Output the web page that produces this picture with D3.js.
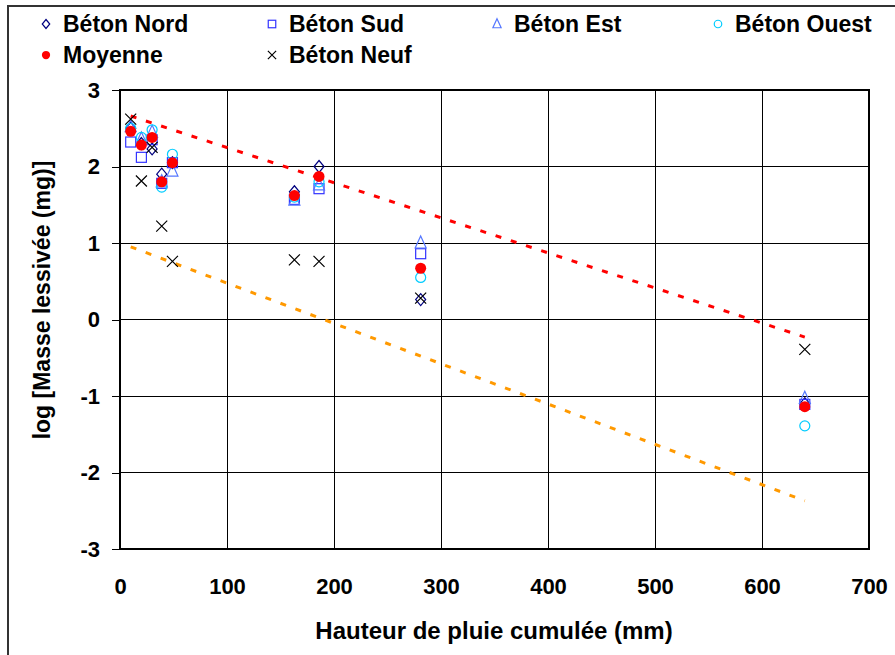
<!DOCTYPE html>
<html><head><meta charset="utf-8">
<script src="https://cdn.jsdelivr.net/npm/d3@7"></script>
<style>body{margin:0;background:#fff;} svg{display:block;font-family:"Liberation Sans",Arial,sans-serif;font-weight:bold;}</style>
</head><body>
<svg id="chart" width="895" height="655"></svg>
<script>
const rain = [10, 20, 30, 39, 49, 163, 186, 281, 640];
const betonNord  = [2.50, 2.30, 2.23, 1.90, 2.05, 1.67, 2.00, 0.26, -1.10];
const betonSud   = [2.32, 2.12, 2.35, 1.78, 2.05, 1.57, 1.71, 0.86, -1.11];
const betonEst   = [2.52, 2.36, 2.45, 1.80, 1.94, 1.56, 1.76, 1.00, -1.03];
const betonOuest = [2.50, 2.38, 2.48, 1.73, 2.16, 1.60, 1.80, 0.55, -1.39];
const moyenne    = [2.46, 2.28, 2.38, 1.80, 2.05, 1.62, 1.87, 0.67, -1.14];
const betonNeuf  = [2.62, 1.81, 2.25, 1.22, 0.76, 0.78, 0.76, 0.28, -0.39];
const trendX = [10, 640];
const trendRed = [2.66, -0.23];
const trendOrange = [0.95, -2.37];
const xTicks = [0, 100, 200, 300, 400, 500, 600, 700];
const yTicks = [-3, -2, -1, 0, 1, 2, 3];

const svg = d3.select("#chart");
const L = 120, R = 869, T = 90, B = 549;
const x = d3.scaleLinear().domain([0, 700]).range([L, R]);
const y = d3.scaleLinear().domain([-3, 3]).range([B, T]);

// outer frame
svg.append("rect").attr("x", 8).attr("y", 6).attr("width", 900).attr("height", 700)
  .attr("fill", "none").attr("stroke", "#333").attr("stroke-width", 2);

// grid
const g = svg.append("g");
g.selectAll(".vg").data(xTicks).join("line")
  .attr("x1", d => x(d)).attr("x2", d => x(d)).attr("y1", T).attr("y2", B)
  .attr("stroke", "#000").attr("stroke-width", 1).attr("shape-rendering", "crispEdges");
g.selectAll(".hg").data(yTicks).join("line")
  .attr("x1", L).attr("x2", R).attr("y1", d => y(d)).attr("y2", d => y(d))
  .attr("stroke", "#000").attr("stroke-width", 1).attr("shape-rendering", "crispEdges");
svg.append("rect").attr("x", L).attr("y", T).attr("width", R - L).attr("height", B - T)
  .attr("fill", "none").attr("stroke", "#000").attr("stroke-width", 1.2).attr("shape-rendering", "crispEdges");

// y axis with ticks
const yAxis = svg.append("g").attr("transform", `translate(${L},0)`)
  .call(d3.axisLeft(y).tickValues(yTicks).tickSize(8).tickPadding(12).tickFormat(d => String(d)));
yAxis.select(".domain").remove();
yAxis.selectAll("line").attr("stroke", "#000").attr("shape-rendering", "crispEdges");
yAxis.selectAll("text").attr("font-size", 22).attr("font-family", "Liberation Sans, Arial").attr("font-weight", "bold").attr("fill", "#000");

// x axis labels
const xAxis = svg.append("g").attr("transform", `translate(0,${B})`)
  .call(d3.axisBottom(x).tickValues(xTicks).tickSize(0).tickPadding(29).tickFormat(d => String(d)));
xAxis.select(".domain").remove();
xAxis.selectAll("text").attr("font-size", 22).attr("font-family", "Liberation Sans, Arial").attr("font-weight", "bold").attr("fill", "#000");

// titles
svg.append("text").attr("x", 494).attr("y", 639).attr("text-anchor", "middle")
  .attr("font-size", 24).attr("fill", "#000").text("Hauteur de pluie cumulée (mm)");
svg.append("text").attr("transform", "translate(50,300) rotate(-90)").attr("text-anchor", "middle")
  .attr("font-size", 23).attr("fill", "#000").text("log [Masse lessivée (mg)]");

// trend lines
const line = d3.line().x(d => x(d[0])).y(d => y(d[1]));
svg.append("path").datum(trendX.map((v, i) => [v, trendRed[i]])).attr("d", line)
  .attr("fill", "none").attr("stroke", "#ff0000").attr("stroke-width", 3).attr("stroke-dasharray", "6,10");
svg.append("path").datum(trendX.map((v, i) => [v, trendOrange[i]])).attr("d", line)
  .attr("fill", "none").attr("stroke", "#ff9900").attr("stroke-width", 3).attr("stroke-dasharray", "6,10");

// markers
const series = [
  {name: "Béton Nord", vals: betonNord, shape: "diamond", color: "#000080"},
  {name: "Béton Sud", vals: betonSud, shape: "square", color: "#3333ff"},
  {name: "Béton Est", vals: betonEst, shape: "triangle", color: "#5577ff"},
  {name: "Béton Ouest", vals: betonOuest, shape: "circle", color: "#00ccff"},
  {name: "Moyenne", vals: moyenne, shape: "dot", color: "#ff0000"},
  {name: "Béton Neuf", vals: betonNeuf, shape: "cross", color: "#000"}
];
function drawMarker(sel, shape, color, s) {
  s = s || 1;
  if (shape === "diamond") sel.append("path").attr("d", `M0,${-6*s}L${5*s},0L0,${6*s}L${-5*s},0Z`).attr("fill", "none").attr("stroke", color).attr("stroke-width", 1.2);
  if (shape === "square") sel.append("rect").attr("x", -5*s).attr("y", -5*s).attr("width", 10*s).attr("height", 10*s).attr("fill", "none").attr("stroke", color).attr("stroke-width", 1.2);
  if (shape === "triangle") sel.append("path").attr("d", `M0,${-7*s}L${5.5*s},${5*s}L${-5.5*s},${5*s}Z`).attr("fill", "none").attr("stroke", color).attr("stroke-width", 1.2);
  if (shape === "circle") sel.append("circle").attr("r", 5*s).attr("fill", "none").attr("stroke", color).attr("stroke-width", 1.2);
  if (shape === "dot") sel.append("circle").attr("r", 5.5*s).attr("fill", color);
  if (shape === "cross") sel.append("path").attr("d", `M${-5.5*s},${-5.5*s}L${5.5*s},${5.5*s}M${5.5*s},${-5.5*s}L${-5.5*s},${5.5*s}`).attr("stroke", color).attr("stroke-width", 1.2);
}
series.forEach(sr => {
  const gs = svg.append("g");
  sr.vals.forEach((v, i) => {
    const m = gs.append("g").attr("transform", `translate(${x(rain[i])},${y(v)})`);
    drawMarker(m, sr.shape, sr.color, 1);
  });
});

// legend
const legPos = [[46, 24], [272, 24], [497, 24], [718, 24], [46, 55], [272, 55]];
series.forEach((sr, k) => {
  const [lx, ly] = legPos[k];
  const m = svg.append("g").attr("transform", `translate(${lx},${ly})`);
  drawMarker(m, sr.shape, sr.color, 0.75);
  svg.append("text").attr("x", lx + 17).attr("y", ly + 8).attr("font-size", 23).attr("fill", "#000").text(sr.name);
});
</script>
</body></html>
